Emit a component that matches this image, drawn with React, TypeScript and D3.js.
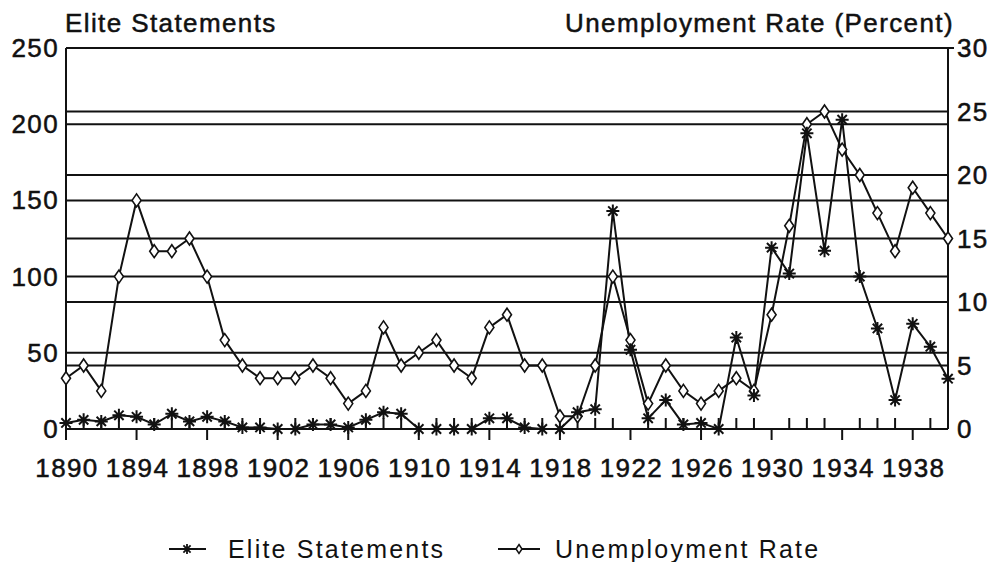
import React from 'react';
import * as d3 from 'd3';

// years on the x axis, one point per year
const years = [
  1890, 1891, 1892, 1893, 1894, 1895, 1896, 1897, 1898, 1899,
  1900, 1901, 1902, 1903, 1904, 1905, 1906, 1907, 1908, 1909,
  1910, 1911, 1912, 1913, 1914, 1915, 1916, 1917, 1918, 1919,
  1920, 1921, 1922, 1923, 1924, 1925, 1926, 1927, 1928, 1929,
  1930, 1931, 1932, 1933, 1934, 1935, 1936, 1937, 1938, 1939, 1940,
];

// elite statements (left axis)
const eliteStatements = [
  4, 6, 5, 9, 8, 3, 10, 5, 8, 5,
  1, 1, 0, 0, 3, 3, 1, 6, 11, 10,
  0, 0, 0, 0, 7, 7, 1, 0, 0, 11,
  13, 143, 52, 7, 19, 3, 4, 0, 60, 22,
  119, 102, 194, 117, 203, 100, 66, 19, 69, 54, 33,
];

// unemployment rate in percent (right axis)
const unemploymentRate = [
  4, 5, 3, 12, 18, 14, 14, 15, 12, 7,
  5, 4, 4, 4, 5, 4, 2, 3, 8, 5,
  6, 7, 5, 4, 8, 9, 5, 5, 1, 1,
  5, 12, 7, 2, 5, 3, 2, 3, 4, 3,
  9, 16, 24, 25, 22, 20, 17, 14, 19, 17, 15,
];

const leftTicks = [0, 50, 100, 150, 200, 250];
const rightTicks = [0, 5, 10, 15, 20, 25, 30];
const yearLabels = [1890, 1894, 1898, 1902, 1906, 1910, 1914, 1918, 1922, 1926, 1930, 1934, 1938];

const W = 997, H = 562;
const left = 66, right = 948, top = 48, bottom = 429;
const font = '"Liberation Sans", Arial, Helvetica, sans-serif';

const starPath = (r: number) => {
  const d = r * 0.72;
  return `M${-r},0L${r},0M0,${-r}L0,${r}M${-d},${-d}L${d},${d}M${-d},${d}L${d},${-d}`;
};
const diamondPath = (w: number, h: number) => `M0,${-h}L${w},0L0,${h}L${-w},0Z`;

export default function App() {
  const x = d3.scaleLinear().domain([1890, 1940]).range([left, right]);
  const yL = d3.scaleLinear().domain([0, 250]).range([bottom, top]);
  const yR = d3.scaleLinear().domain([0, 30]).range([bottom, top]);

  const eliteLine = d3.line<number>().x((d, i) => x(years[i])).y(d => yL(d))(eliteStatements) || '';
  const unempLine = d3.line<number>().x((d, i) => x(years[i])).y(d => yR(d))(unemploymentRate) || '';

  const tickText = {
    fontFamily: font, fontSize: 26, letterSpacing: 1.4, fill: '#111',
    stroke: '#111', strokeWidth: 0.5,
  } as const;

  return (
    <svg width={W} height={H} viewBox={`0 0 ${W} ${H}`}
      style={{ position: 'absolute', left: 0, top: 0, background: '#fff', display: 'block' }}>
      <rect x={0} y={0} width={W} height={H} fill="#fff" />

      {/* gridlines from both axes */}
      {leftTicks.filter(t => t > 0).map(t => (
        <line key={'gl' + t} x1={left} x2={right} y1={yL(t)} y2={yL(t)} stroke="#111" strokeWidth={2} />
      ))}
      {rightTicks.filter(t => t > 0 && t < 30).map(t => (
        <line key={'gr' + t} x1={left} x2={right} y1={yR(t)} y2={yR(t)} stroke="#111" strokeWidth={2} />
      ))}

      {/* axes */}
      <line x1={left} x2={left} y1={top} y2={bottom} stroke="#111" strokeWidth={2} />
      <line x1={right} x2={right} y1={top} y2={bottom} stroke="#111" strokeWidth={2} />
      <line x1={left} x2={right} y1={bottom} y2={bottom} stroke="#111" strokeWidth={2} />
      <line x1={right} x2={right + 6} y1={top} y2={top} stroke="#111" strokeWidth={2} />

      {/* year ticks: minor up, major (every 4 years) down */}
      {years.map(yr => (
        yearLabels.includes(yr)
          ? <line key={'t' + yr} x1={x(yr)} x2={x(yr)} y1={bottom} y2={bottom + 11} stroke="#111" strokeWidth={2} />
          : <line key={'t' + yr} x1={x(yr)} x2={x(yr)} y1={bottom} y2={bottom - 11} stroke="#111" strokeWidth={2} />
      ))}

      {/* tick labels */}
      {leftTicks.map(t => (
        <text key={'ll' + t} x={59} y={yL(t)} textAnchor="end" dominantBaseline="central" {...tickText}>{t}</text>
      ))}
      {rightTicks.map(t => (
        <text key={'rl' + t} x={957} y={yR(t)} textAnchor="start" dominantBaseline="central" {...tickText}>{t}</text>
      ))}
      {yearLabels.map(yr => (
        <text key={'yl' + yr} x={x(yr) + 1} y={468} textAnchor="middle" dominantBaseline="central" {...tickText}>{yr}</text>
      ))}

      {/* axis titles */}
      <text x={65} y={32} {...tickText}>Elite Statements</text>
      <text x={954} y={32} textAnchor="end" {...tickText}>Unemployment Rate (Percent)</text>

      {/* series */}
      <path d={unempLine} fill="none" stroke="#111" strokeWidth={2} />
      <path d={eliteLine} fill="none" stroke="#111" strokeWidth={2} />
      {unemploymentRate.map((v, i) => (
        <path key={'d' + i} d={diamondPath(4.5, 6.5)} transform={`translate(${x(years[i])},${yR(v)})`}
          fill="#fff" stroke="#111" strokeWidth={1.6} />
      ))}
      {eliteStatements.map((v, i) => (
        <path key={'s' + i} d={starPath(6.5)} transform={`translate(${x(years[i])},${yL(v)})`}
          fill="none" stroke="#111" strokeWidth={2} />
      ))}

      {/* legend */}
      <g>
        <line x1={169} x2={206} y1={549} y2={549} stroke="#111" strokeWidth={2} />
        <path d={starPath(5)} transform="translate(187,549)" fill="none" stroke="#111" strokeWidth={1.8} />
        <text x={228} y={558} fontFamily={font} fontSize={25} letterSpacing={2.2} fill="#111">Elite Statements</text>
        <line x1={498} x2={540} y1={549} y2={549} stroke="#111" strokeWidth={2} />
        <path d={diamondPath(3, 4.5)} transform="translate(519,549)" fill="#fff" stroke="#111" strokeWidth={1.5} />
        <text x={555} y={558} fontFamily={font} fontSize={25} letterSpacing={2.2} fill="#111">Unemployment Rate</text>
      </g>
    </svg>
  );
}
